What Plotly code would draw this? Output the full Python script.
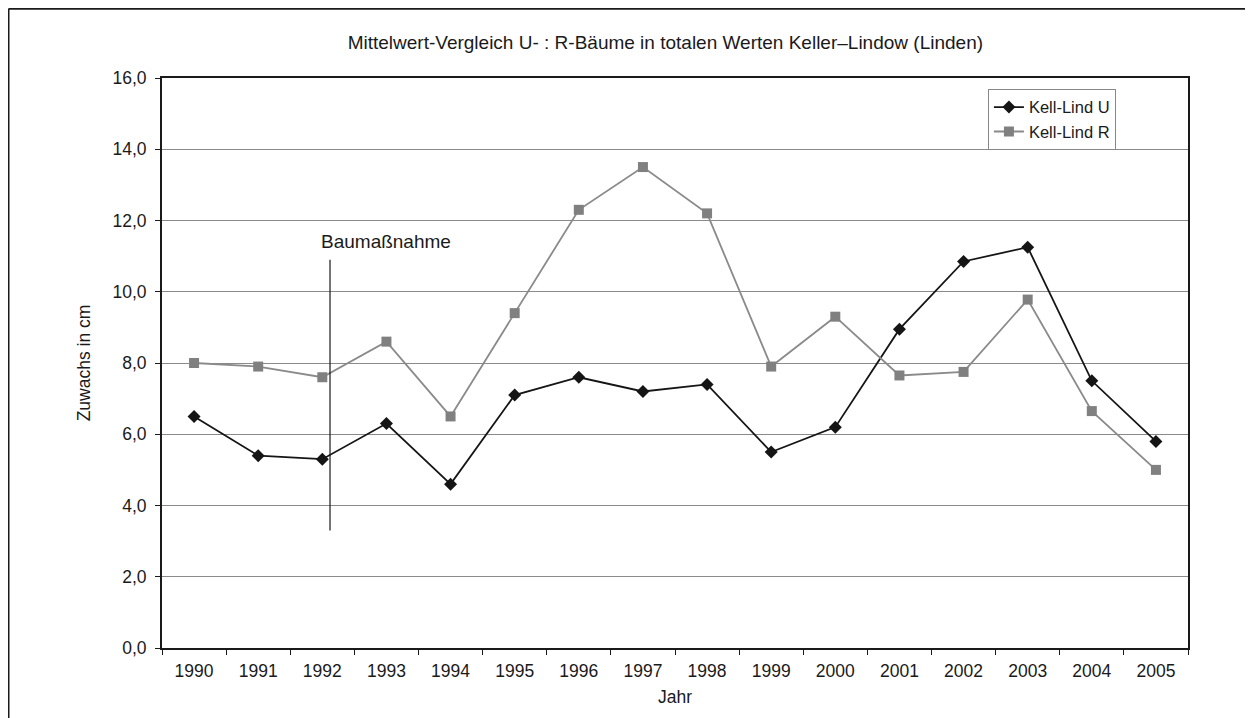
import plotly.graph_objects as go

years = ["1990", "1991", "1992", "1993", "1994", "1995", "1996", "1997",
         "1998", "1999", "2000", "2001", "2002", "2003", "2004", "2005"]
kell_lind_u = [6.5, 5.4, 5.3, 6.3, 4.6, 7.1, 7.6, 7.2, 7.4, 5.5, 6.2, 8.95, 10.85, 11.25, 7.5, 5.8]
kell_lind_r = [8.0, 7.9, 7.6, 8.6, 6.5, 9.4, 12.3, 13.5, 12.2, 7.9, 9.3, 7.65, 7.75, 9.78, 6.65, 5.0]
y_ticks = [0, 2, 4, 6, 8, 10, 12, 14, 16]
event_label = "Baumaßnahme"
event_x = 2.12
event_y = [3.3, 10.9]

FONT = "Liberation Sans, Arial, sans-serif"
xs = list(range(len(years)))

fig = go.Figure()
fig.add_trace(go.Scatter(
    x=xs, y=kell_lind_u, name="Kell-Lind U", mode="lines+markers",
    line=dict(color="#151515", width=1.8),
    marker=dict(symbol="diamond", size=10, color="#151515"),
))
fig.add_trace(go.Scatter(
    x=xs, y=kell_lind_r, name="Kell-Lind R", mode="lines+markers",
    line=dict(color="#8a8a8a", width=1.8),
    marker=dict(symbol="square", size=10, color="#808080"),
))

# event line
fig.add_trace(go.Scatter(
    x=[event_x, event_x], y=event_y, mode="lines", showlegend=False,
    line=dict(color="#1a1a1a", width=1.2), hoverinfo="skip",
))
fig.add_annotation(x=2.0, y=11.42, text=event_label, showarrow=False,
                   xanchor="left", yanchor="middle", xshift=-3,
                   font=dict(size=19, color="#1a1a1a", family=FONT))

fig.update_layout(
    width=1245, height=710,
    margin=dict(l=154, r=65, t=70, b=70),
    paper_bgcolor="white", plot_bgcolor="white",
    separators=",.",
    font=dict(family=FONT, color="#1a1a1a", size=17),
    title=dict(text="Mittelwert-Vergleich U- : R-Bäume in totalen Werten Keller–Lindow (Linden)",
               x=0.528, xanchor="center", y=0.951, yanchor="middle",
               font=dict(size=19, family=FONT, color="#1a1a1a")),
    legend=dict(x=0.805, y=0.981, xanchor="left", yanchor="top",
                bordercolor="#888888", borderwidth=1, bgcolor="white",
                font=dict(size=16.5, family=FONT), tracegroupgap=0),
    xaxis=dict(
        range=[-0.5, 15.5], tickvals=xs, ticktext=years, showgrid=False, zeroline=False,
        showline=True, linecolor="#1a1a1a", linewidth=2, mirror=True, ticks="",
        ticklabelstandoff=6,
        minor=dict(tick0=0.5, dtick=1, ticks="outside", ticklen=5, tickcolor="#1a1a1a", tickwidth=1),
        title=dict(text="Jahr", font=dict(size=17.5), standoff=11),
        tickfont=dict(size=17.5),
    ),
    yaxis=dict(
        range=[0, 16], tickvals=y_ticks, tickformat=".1f", showgrid=True,
        gridcolor="#8a8a8a", gridwidth=1.2, zeroline=False,
        showline=True, linecolor="#1a1a1a", linewidth=2, mirror=True,
        ticks="outside", ticklen=5, tickcolor="#1a1a1a", ticklabelstandoff=5,
        title=dict(text="Zuwachs in cm", font=dict(size=17.5), standoff=17),
        tickfont=dict(size=17.5),
    ),
)

# outer frame (left and top edges)
fig.add_shape(type="line", xref="paper", yref="paper", x0=-0.1496, x1=1.2, y0=1.1215, y1=1.1215,
              line=dict(color="#1a1a1a", width=2))
fig.add_shape(type="line", xref="paper", yref="paper", x0=-0.1496, x1=-0.1496, y0=1.1215, y1=-0.2,
              line=dict(color="#1a1a1a", width=2))

fig.write_html("out.html")
